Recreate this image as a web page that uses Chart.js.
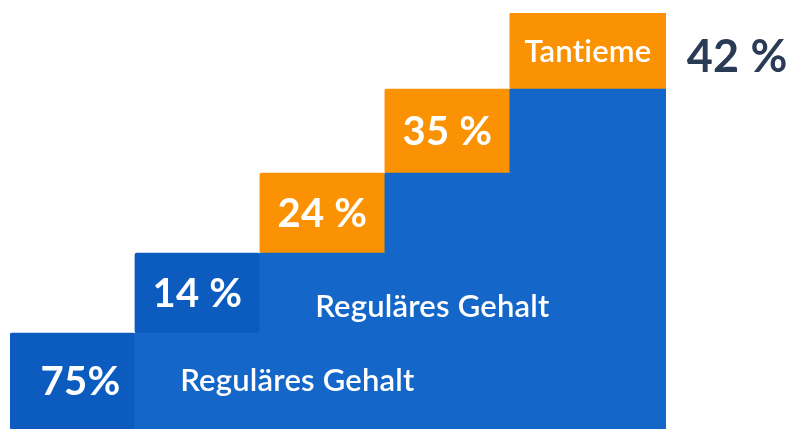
<!DOCTYPE html>
<html>
<head>
    <title>Gehalt und Tantieme</title>
    <meta charset="utf-8" />
    <script src="https://cdn.jsdelivr.net/npm/chart.js"></script>
    <style>
        html, body { margin: 0; padding: 0; background: #ffffff; }
        #wrap { width: 800px; height: 443px; }
    </style>
</head>
<body>
    <div id="wrap"><canvas id="chart"></canvas></div>

    <script>
        // Step positions (bar centres) on the x axis, last bar is wider; the extra point stays empty
        const stepX = [0.5, 1.5, 2.5, 3.5, 4.5, 6];

        // Stacked heights of the steps
        const regularPay = [null, 1.2, 2.2, 3.2, 4.25, null];     // Reguläres Gehalt (basis)
        const regularHighlight = [1.2, 1.0, null, null, null, null]; // hervorgehobener Anteil
        const bonus = [null, null, 1.0, 1.05, 0.95, null];          // Tantieme

        // Labels in the segments
        const segmentLabels = ['75%', '14 %', '24 %', '35 %', 'Tantieme'];
        const sideLabel = '42 %';
        const sideLabelPos = [5.82, 4.64];
        const bandLabel = 'Reguläres Gehalt';
        const bandLabelPos = [[2.3, 0.6], [3.38, 1.53]];

        const BLUE = '#1466c8';
        const DARK_BLUE = '#0c5cc0';
        const ORANGE = '#fb9203';

        function toPoints(values) {
            return values.map((v, i) => ({x: stepX[i], y: v}));
        }

        // draws the texts on top of the bars
        const labelPlugin = {
            id: 'stepLabels',
            afterDatasetsDraw(chart) {
                const ctx = chart.ctx;
                const xs = chart.scales.x;
                const ys = chart.scales.y;
                ctx.save();
                ctx.textAlign = 'center';
                ctx.textBaseline = 'middle';
                ctx.fillStyle = '#ffffff';
                ctx.letterSpacing = '0.2px'; // keeps "ti" from turning into a ligature

                // percentage labels: top segment of each step
                segmentLabels.forEach((text, i) => {
                    let el = null;
                    [2, 1].forEach(d => {
                        if (!el && chart.data.datasets[d].data[i].y !== null) {
                            el = chart.getDatasetMeta(d).data[i];
                        }
                    });
                    if (!el) return;
                    const cy = (el.y + el.base) / 2;
                    if (text === 'Tantieme') {
                        ctx.font = '600 31px Lato';
                    } else {
                        ctx.font = 'bold 40px Lato';
                    }
                    ctx.fillText(text, el.x + (i === 0 ? 8 : 0), cy + 1);
                });

                ctx.font = '600 31px Lato';
                bandLabelPos.forEach(p => {
                    ctx.fillText(bandLabel, xs.getPixelForValue(p[0]), ys.getPixelForValue(p[1]));
                });

                ctx.fillStyle = '#2a3b55';
                ctx.font = 'bold 45px Lato';
                ctx.fillText(sideLabel, xs.getPixelForValue(sideLabelPos[0]), ys.getPixelForValue(sideLabelPos[1]));
                ctx.restore();
            }
        };

        new Chart(document.getElementById('chart'), {
            type: 'bar',
            data: {
                datasets: [
                    {label: 'Reguläres Gehalt', data: toPoints(regularPay), backgroundColor: BLUE},
                    {label: 'Reguläres Gehalt', data: toPoints(regularHighlight), backgroundColor: DARK_BLUE},
                    {label: 'Tantieme', data: toPoints(bonus), backgroundColor: ORANGE}
                ]
            },
            options: {
                responsive: true,
                maintainAspectRatio: false,
                animation: false,
                layout: {padding: {left: 10, right: 134, top: 13, bottom: 14}},
                datasets: {
                    bar: {
                        barThickness: 'flex',
                        barPercentage: 1,
                        categoryPercentage: 1,
                        borderRadius: 2,
                        borderSkipped: false
                    }
                },
                scales: {
                    x: {type: 'linear', min: 0, max: 5.25, offset: false, stacked: true, display: false},
                    y: {min: 0, max: 5.2, stacked: true, display: false}
                },
                plugins: {
                    legend: {display: false},
                    tooltip: {enabled: false}
                }
            },
            plugins: [labelPlugin]
        });
    </script>
</body>
</html>
